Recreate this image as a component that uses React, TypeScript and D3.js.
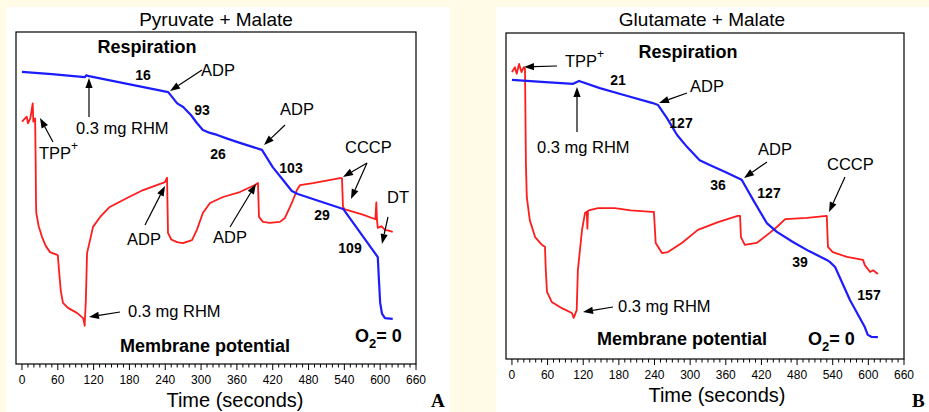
import React from "react";
import * as d3 from "d3";

// Panel A: Pyruvate + Malate
const respTimeA = [0, 50, 105, 108, 112, 245, 260, 270, 283, 293, 303, 315, 327, 345, 365, 402, 420, 437, 452, 462, 538, 596, 598, 600, 603, 608, 621];
const respValA = [88.0, 87.3, 86.4, 87.0, 86.7, 81.9, 78.5, 77.4, 75.0, 72.6, 70.5, 69.6, 69.0, 67.8, 66.6, 64.5, 59.3, 55.5, 52.1, 51.2, 46.7, 32.2, 25.0, 18.4, 15.2, 13.8, 13.6];
const membTimeA = [0, 8, 10, 14, 18, 19, 22, 23, 23.5, 24, 28, 33.5, 40, 47, 60, 62, 65, 68.7, 77, 92, 102, 104, 105, 107, 109, 114, 119, 131, 147, 176, 203, 239.5, 243, 244.6, 250, 259.6, 269.7, 284.8, 293, 303, 315, 336.7, 365, 390, 395.3, 397, 403.7, 415, 432, 440.5, 452, 460.6, 465.7, 487.4, 532.7, 536, 537.7, 541, 571, 592, 593.5, 594.6, 596, 602, 608, 614, 621];
const membValA = [73.0, 74.5, 72.5, 74.0, 78.5, 73.0, 74.0, 60.0, 48.5, 45.5, 41.5, 38.3, 35.5, 33.7, 32.8, 28.3, 22.0, 18.4, 16.9, 15.4, 13.9, 12.7, 11.5, 19.3, 33.4, 37.3, 41.3, 44.3, 47.3, 50.0, 52.4, 54.8, 56.1, 39.5, 37.5, 36.7, 36.4, 37.3, 40.4, 45.5, 48.5, 50.3, 51.8, 53.9, 54.5, 44.3, 42.8, 42.5, 42.8, 44.0, 48.5, 52.4, 53.9, 54.5, 56.0, 56.0, 47.3, 46.6, 45.0, 43.6, 48.7, 43.4, 41.0, 41.5, 40.4, 40.2, 39.8];

// Panel B: Glutamate + Malate
const respTimeB = [0, 50, 103, 113, 148, 190, 237, 246, 261, 278, 295, 316, 333, 360, 384, 387, 406, 429, 446, 473, 500, 530, 535, 544, 569, 594, 599, 605, 616];
const respValB = [85.6, 85.0, 84.4, 85.3, 83.1, 80.9, 78.5, 77.9, 73.9, 68.7, 65.0, 61.0, 59.5, 57.3, 55.2, 54.9, 48.8, 41.7, 39.0, 35.9, 33.1, 30.4, 29.8, 28.2, 18.1, 9.8, 7.4, 6.8, 6.7];
const membTimeB = [0, 5, 8, 12, 16, 20, 22, 23.5, 25, 30, 39, 50.5, 55.6, 57, 59, 67, 84, 101, 104, 109, 111, 118, 123, 126, 127, 128, 131, 145, 173, 200, 236, 239, 242, 252.5, 262.6, 286, 313, 347, 380, 384, 385.5, 392, 412, 434, 446, 460, 497, 530, 532, 540, 564, 591, 594, 603, 608, 616];
const membValB = [88.0, 89.5, 87.5, 90.5, 88.0, 89.5, 89.0, 60.0, 49.7, 42.6, 37.4, 35.0, 34.4, 27.3, 20.6, 17.5, 15.6, 14.1, 12.6, 15.0, 27.3, 39.6, 44.8, 45.2, 40.0, 45.4, 45.7, 46.3, 46.3, 45.6, 45.1, 45.1, 35.6, 32.5, 32.8, 35.6, 39.6, 42.0, 43.9, 43.9, 37.4, 35.0, 35.6, 38.7, 40.5, 42.9, 43.3, 43.9, 34.4, 32.8, 31.3, 30.4, 28.8, 26.7, 27.2, 26.1];

const majorTicks = [0, 60, 120, 180, 240, 300, 360, 420, 480, 540, 600, 660];
const xDomain = [-10, 660];

const FONT = "Arial, 'Liberation Sans', sans-serif";
const RED = "#ff1c1c";
const BLUE = "#1c1cff";

type Note = { text: string; x: number; y: number; bold?: boolean; size?: number; anchor?: string; sup?: string };
type Arrow = [number, number, number, number];

const ArrowLine = ({ a }: { a: Arrow }) => {
  const [x1, y1, x2, y2] = a;
  const ang = Math.atan2(y2 - y1, x2 - x1);
  const L = 10, W = 3.6;
  const bx = x2 - L * Math.cos(ang), by = y2 - L * Math.sin(ang);
  const px = -Math.sin(ang) * W, py = Math.cos(ang) * W;
  return (
    <g>
      <line x1={x1} y1={y1} x2={bx} y2={by} stroke="#000" strokeWidth={1.2} />
      <polygon points={`${x2},${y2} ${bx + px},${by + py} ${bx - px},${by - py}`} fill="#000" />
    </g>
  );
};

const Panel = ({ left, right, top, bottom, title, titleX, xLabelX, letter, letterX, respT, respV, membT, membV, notes, arrows, o2x, o2y }: any) => {
  const x = d3.scaleLinear().domain(xDomain).range([left, right]);
  const y = d3.scaleLinear().domain([0, 100]).range([bottom, top]);
  const path = (ts: number[], vs: number[]) =>
    d3.line<number>().x((t) => x(t)).y((t, i) => y(vs[i]))(ts) || "";
  const minor = d3.range(0, 661, 10);
  return (
    <g>
      <text x={titleX} y={26} textAnchor="middle" fontFamily={FONT} fontSize={19}>{title}</text>
      <rect x={left} y={top} width={right - left} height={bottom - top} fill="none" stroke="#000" strokeWidth={1.2} />
      {minor.map((t) => (
        <line key={t} x1={x(t)} x2={x(t)} y1={bottom} y2={bottom + (t % 60 === 0 ? 6 : 3.5)} stroke="#000" strokeWidth={1} />
      ))}
      {majorTicks.map((t) => (
        <text key={t} x={x(t)} y={bottom + 20} textAnchor="middle" fontFamily={FONT} fontSize={12}>{t}</text>
      ))}
      <text x={xLabelX} y={bottom + 43} textAnchor="middle" fontFamily={FONT} fontSize={20}>Time (seconds)</text>
      <path d={path(membT, membV)} fill="none" stroke={RED} strokeWidth={1.8} strokeLinejoin="round" />
      <path d={path(respT, respV)} fill="none" stroke={BLUE} strokeWidth={2.2} strokeLinejoin="round" />
      {arrows.map((a: Arrow, i: number) => <ArrowLine key={i} a={a} />)}
      {notes.map((n: Note, i: number) => (
        <text key={i} x={n.x} y={n.y} textAnchor={n.anchor || "start"} fontFamily={FONT}
          fontSize={n.size || 16.5} fontWeight={n.bold ? "bold" : "normal"}>
          {n.text}
          {n.sup ? <tspan dy={-9} fontSize={12}>{n.sup}</tspan> : null}
        </text>
      ))}
      <text x={o2x} y={o2y} fontFamily={FONT} fontSize={18} fontWeight="bold">
        O<tspan dy={6} fontSize={13}>2</tspan><tspan dy={-6}>= 0</tspan>
      </text>
      <text x={letterX} y={407} fontFamily="'Liberation Serif', 'DejaVu Serif', serif" fontSize={19} fontWeight="bold">{letter}</text>
    </g>
  );
};

const notesA: Note[] = [
  { text: "Respiration", x: 147, y: 53, bold: true, size: 18, anchor: "middle" },
  { text: "16", x: 143, y: 80, bold: true, size: 14, anchor: "middle" },
  { text: "ADP", x: 201, y: 76 },
  { text: "93", x: 202, y: 115, bold: true, size: 14, anchor: "middle" },
  { text: "0.3 mg RHM", x: 76, y: 134 },
  { text: "TPP", x: 39, y: 159, sup: "+" },
  { text: "26", x: 218, y: 159, bold: true, size: 14, anchor: "middle" },
  { text: "ADP", x: 280, y: 115 },
  { text: "103", x: 291, y: 173, bold: true, size: 14, anchor: "middle" },
  { text: "CCCP", x: 345, y: 153 },
  { text: "29", x: 322, y: 220, bold: true, size: 14, anchor: "middle" },
  { text: "DT", x: 387, y: 203 },
  { text: "109", x: 350, y: 253, bold: true, size: 14, anchor: "middle" },
  { text: "ADP", x: 127, y: 245 },
  { text: "ADP", x: 213, y: 243 },
  { text: "0.3 mg RHM", x: 128, y: 317 },
  { text: "Membrane potential", x: 205, y: 352, bold: true, size: 18, anchor: "middle" },
];
const arrowsA: Arrow[] = [
  [202, 70, 170, 91],
  [89, 117, 89, 78],
  [53, 142, 40, 118],
  [285, 125, 264, 145],
  [367, 163, 343, 177],
  [367, 163, 351, 199],
  [388, 217, 382, 244],
  [145, 225, 165, 186],
  [230, 227, 256, 184],
  [120, 312, 89, 317],
];

const notesB: Note[] = [
  { text: "Respiration", x: 688, y: 58, bold: true, size: 18, anchor: "middle" },
  { text: "TPP", x: 565, y: 67, sup: "+" },
  { text: "21", x: 618, y: 85, bold: true, size: 14, anchor: "middle" },
  { text: "ADP", x: 690, y: 92 },
  { text: "127", x: 681, y: 128, bold: true, size: 14, anchor: "middle" },
  { text: "0.3 mg RHM", x: 537, y: 153 },
  { text: "ADP", x: 758, y: 155 },
  { text: "36", x: 718, y: 190, bold: true, size: 14, anchor: "middle" },
  { text: "127", x: 769, y: 198, bold: true, size: 14, anchor: "middle" },
  { text: "CCCP", x: 827, y: 170 },
  { text: "39", x: 800, y: 267, bold: true, size: 14, anchor: "middle" },
  { text: "157", x: 869, y: 300, bold: true, size: 14, anchor: "middle" },
  { text: "0.3 mg RHM", x: 618, y: 312 },
  { text: "Membrane potential", x: 682, y: 345, bold: true, size: 18, anchor: "middle" },
];
const arrowsB: Arrow[] = [
  [557, 66, 524, 67],
  [687, 93, 659, 103],
  [577, 132, 577, 87],
  [767, 162, 744, 178],
  [845, 177, 829, 212],
  [613, 307, 583, 312],
];

export default function App() {
  return (
    <svg width={929} height={412} style={{ position: "absolute", left: 0, top: 0, display: "block" }}>
      <rect x={0} y={0} width={929} height={412} fill="#fffbe6" />
      <rect x={6} y={7} width={444} height={405} fill="#ffffff" />
      <rect x={496} y={7} width={433} height={405} fill="#ffffff" />
      <Panel left={16} right={416} top={32} bottom={364} title="Pyruvate + Malate" titleX={216}
        xLabelX={235} letter="A" letterX={431} respT={respTimeA} respV={respValA}
        membT={membTimeA} membV={membValA} notes={notesA} arrows={arrowsA} o2x={355} o2y={342} />
      <Panel left={506} right={904} top={33} bottom={359} title="Glutamate + Malate" titleX={702}
        xLabelX={717} letter="B" letterX={912} respT={respTimeB} respV={respValB}
        membT={membTimeB} membV={membValB} notes={notesB} arrows={arrowsB} o2x={808} o2y={345} />
    </svg>
  );
}
